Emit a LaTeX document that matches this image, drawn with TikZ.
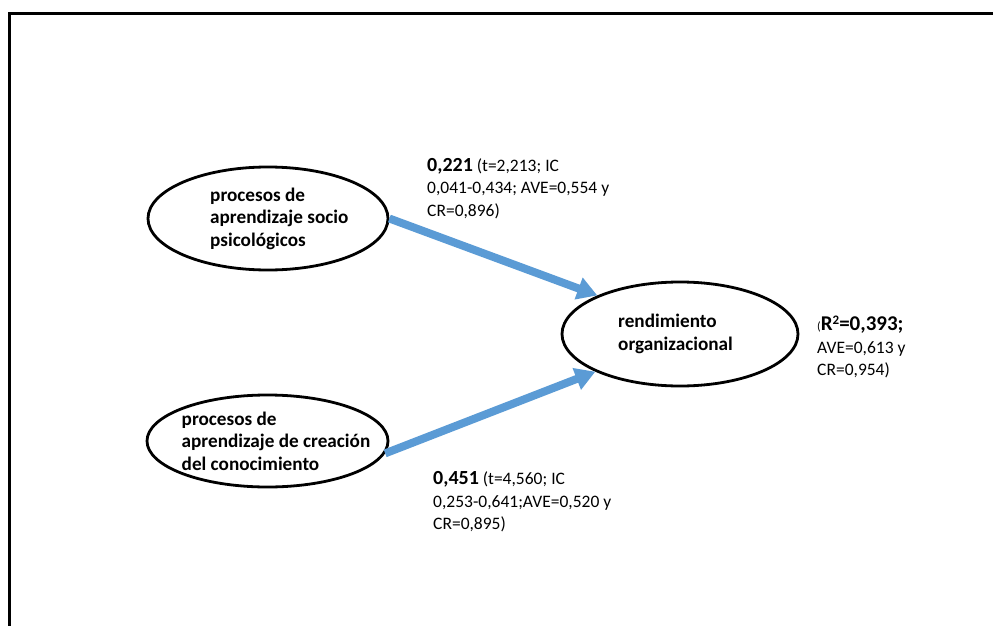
\documentclass[tikz,border=0pt]{standalone}
\usepackage{fontspec}
\setmainfont{Carlito}
\usepackage{xcolor}
\usetikzlibrary{arrows.meta,positioning,shapes.geometric}
\definecolor{flecha}{RGB}{91,155,213}

\begin{document}
\begin{tikzpicture}[x=1pt, y=-1pt,
        constructo/.style={draw, ellipse, line width=2.8pt, inner sep=0pt},
        texto/.style={align=left, inner sep=0pt, anchor=west, font=\fontsize{19.2}{22.5}\selectfont\bfseries},
        coef/.style={align=left, inner sep=0pt, anchor=west, font=\fontsize{17.5}{22.5}\selectfont},
        ruta/.style={->, line width=8pt, flecha},
        >={Triangle[length=20pt,width=22pt]}]

        \useasboundingbox (0,0) rectangle (993,626);

        % Marco
        \draw[line width=2.8pt] (9.5,626) -- (9.5,13.8) -- (993,13.8);

        % Constructos
        \node[constructo, minimum width=240pt, minimum height=103pt] (socio) at (268,218.5) {};
        \node[constructo, minimum width=236pt, minimum height=104pt] (rend) at (680,334) {};
        \node[constructo, minimum width=241pt, minimum height=92pt] (crea) at (267.5,441) {};

        % Textos de los constructos
        \node[texto] (socio-t) at ([xshift=-58pt]socio.center) {procesos de\\aprendizaje socio\\psicológicos};
        \node[texto] (rend-t) at ([xshift=-62pt]rend.center) {rendimiento\\organizacional};
        \node[texto] (crea-t) at ([xshift=-86pt]crea.center) {procesos de\\aprendizaje de creación\\del conocimiento};

        % Rutas
        \draw[ruta] (socio.east) -- (rend.155);
        \draw[ruta] (crea.354) -- (rend.204);

        % Coeficientes
        \node[coef] (c1) at (427,188.5) {\textbf{\fontsize{20}{22.5}\selectfont 0,221} (t=2,213; IC\\0,041-0,434; AVE=0,554 y\\CR=0,896)};
        \node[coef] (c2) at (817,347) {{\fontsize{12}{22.5}\selectfont(}\textbf{\fontsize{21}{22.5}\selectfont R\raisebox{6pt}{\fontsize{13}{13}\selectfont 2}=0,393;}\\AVE=0,613 y\\CR=0,954)};
        \node[coef] (c3) at (433,502) {\textbf{\fontsize{20}{22.5}\selectfont 0,451} (t=4,560; IC\\0,253-0,641;AVE=0,520 y\\CR=0,895)};

    \end{tikzpicture}
\end{document}
